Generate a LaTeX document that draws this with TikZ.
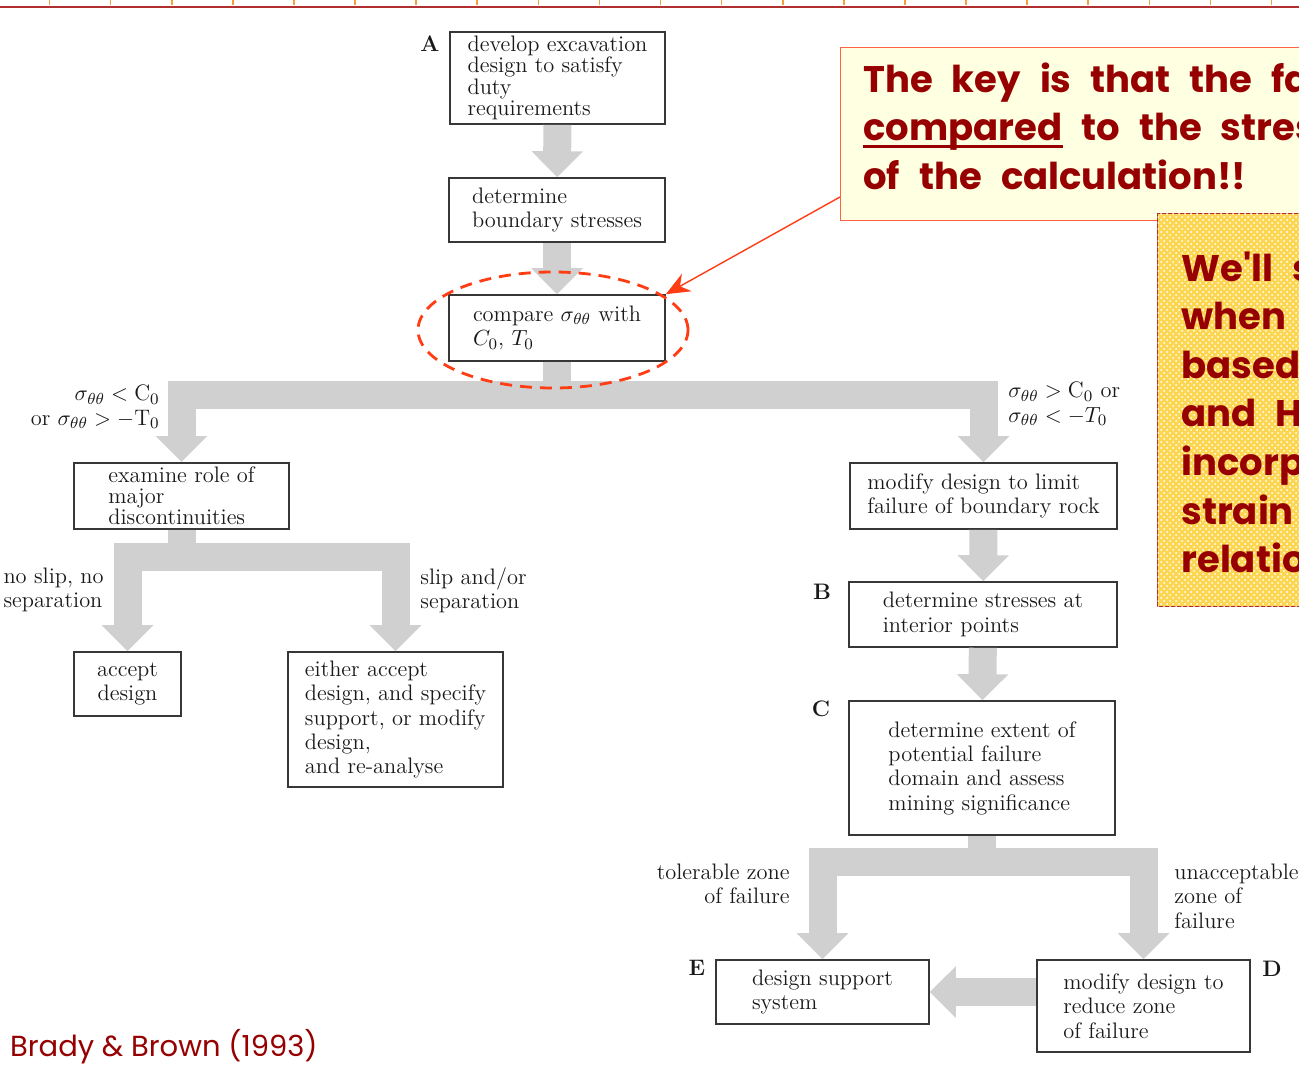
\documentclass[tikz,border=0pt]{standalone}
\usepackage{fontspec}
\usepackage{amsmath}
\usetikzlibrary{arrows.meta,shapes.geometric,patterns}
\newfontfamily\notefont{Poppins}
\definecolor{flowgray}{RGB}{208,208,208}
\definecolor{boxline}{RGB}{55,55,55}
\definecolor{inkdark}{RGB}{25,25,25}
\definecolor{notered}{RGB}{150,0,0}
\definecolor{alertred}{RGB}{255,60,20}
\definecolor{paleyellow}{RGB}{255,255,225}
\definecolor{noteyellow}{RGB}{252,214,80}
\definecolor{rulered}{RGB}{176,48,48}
\definecolor{tickorange}{RGB}{240,160,60}
\newcommand\stepfont{\fontsize{11.2}{12.2}\selectfont}
\newcommand\tightfont{\fontsize{11.2}{10.6}\selectfont}
\newcommand\notesize{\fontsize{18.5}{24.3}\selectfont\spaceskip=9.5pt plus 1pt\relax}
\newcommand\thickul[1]{\setbox0\hbox{#1}\rlap{\rule[-3.5pt]{\wd0}{1.3pt}}\box0\relax}

\begin{document}
\begin{tikzpicture}[x=0.5pt,y=-0.5pt,
    stepbox/.style={draw=boxline,line width=0.8pt,fill=white,align=left,
      font=\stepfont,text=inkdark,inner sep=2pt},
    flow/.style={draw=flowgray,line width=14pt,
      -{Triangle[width=25pt,length=13pt]}},
    tag/.style={font=\bfseries\stepfont,text=inkdark},
    cond/.style={font=\stepfont,text=inkdark,inner sep=1pt},
    notebox/.style={anchor=north west,minimum width=240pt,line width=0.6pt},
    note/.style={anchor=north west,align=left,text=notered,inner sep=0pt,
      font=\notefont\bfseries\notesize}]
  \useasboundingbox (0,0) rectangle (1299,1081);
  \clip (0,0) rectangle (1299,1081);
  \fill[white] (0,0) rectangle (1299,1081);

  % slide ruler
  \draw[rulered,line width=1pt] (0,7.5) -- (1299,7.5);
  \foreach \i in {0,...,20}
    \draw[tickorange,line width=0.8pt] (49.5+61.1*\i,0) -- ++(0,5);

  % design steps
  \node[stepbox,font=\tightfont,minimum width=107.5pt,minimum height=46pt] (dev) at (557.5,78)
    {develop excavation\\design to satisfy\\duty\\requirements};
  \node[stepbox,minimum width=108pt,minimum height=32pt] (bnd) at (557,210)
    {determine\\boundary stresses};
  \node[stepbox,minimum width=108pt,minimum height=33pt] (cmp) at (557,328)
    {compare $\sigma_{\theta\theta}$ with\\$C_0$, $T_0$};
  \node[stepbox,font=\tightfont,minimum width=107.5pt,minimum height=33pt] (exam) at (181.5,496)
    {examine role of\\major\\discontinuities};
  \node[stepbox,align=center,minimum width=53.5pt,minimum height=32pt] (acc) at (127.5,684)
    {accept\\design};
  \node[stepbox,minimum width=107.5pt,minimum height=67.5pt] (eith) at (395.5,719.5)
    {either accept\\design, and specify\\support, or modify\\design,\\and re-analyse};
  \node[stepbox,minimum width=133.5pt,minimum height=33pt] (mod) at (983.5,496)
    {modify design to limit\\failure of boundary rock};
  \node[stepbox,minimum width=134pt,minimum height=32.5pt] (intr) at (983,614.5)
    {determine stresses at\\interior points};
  \node[stepbox,minimum width=133pt,minimum height=67pt] (ext) at (982,768)
    {determine extent of\\potential failure\\domain and assess\\mining significance};
  \node[stepbox,minimum width=106.5pt,minimum height=32pt] (sup) at (822.5,992)
    {design support\\system};
  \node[stepbox,minimum width=106.5pt,minimum height=46pt] (red) at (1143.5,1006)
    {modify design to\\reduce zone\\of failure};

  \node[tag] (tA) at (430,44) {A};
  \node[tag] (tB) at (822,592) {B};
  \node[tag] (tC) at (821,709) {C};
  \node[tag] (tE) at (697,968) {E};
  \node[tag] (tD) at (1272,969) {D};

  % branch points
  \coordinate (fork1) at (557,395);
  \coordinate (fork2) at (181.5,557);
  \coordinate (fork3) at (982,862);

  \draw[flow] (dev) -- (bnd);
  \draw[flow] (bnd) -- (cmp);
  \draw[flow] (cmp.south) -- (fork1) -| (exam.north);
  \draw[flow] (cmp.south) -- (fork1) -| (mod.north);
  \draw[flow] (exam.south) -- (fork2) -| (acc.north);
  \draw[flow] (exam.south) -- (fork2) -| (eith.north);
  \draw[flow] (mod) -- (intr);
  \draw[flow] (intr) -- (ext);
  \draw[flow] (ext.south) -- (fork3) -| (sup.north);
  \draw[flow] (ext.south) -- (fork3) -| (red.north);
  \draw[flow] (sup.east -| red.west) -- (sup.east);

  \node[cond,anchor=east,align=right] (c1) at (162,407)
    {$\sigma_{\theta\theta}<\mathrm{C}_0$\\or $\sigma_{\theta\theta}>-\mathrm{T}_0$};
  \node[cond,anchor=west,align=left] (c2) at (1006,404)
    {$\sigma_{\theta\theta}>\mathrm{C}_0$ or\\$\sigma_{\theta\theta}<-T_0$};
  \node[cond,anchor=east,align=left] (c3) at (106,590) {no slip, no\\separation};
  \node[cond,anchor=west,align=left] (c4) at (418,590) {slip and/or\\separation};
  \node[cond,anchor=east,align=right] (c5) at (792,884) {tolerable zone\\of failure};
  \node[cond,anchor=west,align=left] (c6) at (1172,896) {unacceptable\\zone of\\failure};

  % highlight and remarks
  \node[draw=alertred,ellipse,dash pattern=on 6pt off 4pt,line width=1.4pt,
    minimum width=135pt,minimum height=58pt] (ring) at (553,330) {};

  \node[notebox,fill=paleyellow,draw=alertred!80,minimum height=86.5pt] (key) at (840,47) {};
  \node[note] (keytext) at (863,62)
    {The key is that the failure criterion is\\\thickul{compared} to the stresses at the end\\of the calculation!!};
  \node[notebox,fill=noteyellow,postaction={pattern=crosshatch dots,pattern color=white},
    draw=rulered,minimum height=196.5pt] (later) at (1157,213) {};
  \node[note] (latertext) at (1181,251)
    {We'll see later\\when studying\\based on\\and Hoek-Brown\\incorporating\\strain softening\\relationships};

  \coordinate (tail) at (840,197);
  \draw[alertred,line width=0.7pt,-{Stealth[length=12pt,width=10pt]}] (tail) -- (cmp.north east);

  \node[anchor=west,font=\notefont\fontsize{14.5}{17}\selectfont,text=notered] (src) at (3,1047)
    {Brady \& Brown (1993)};
\end{tikzpicture}
\end{document}
